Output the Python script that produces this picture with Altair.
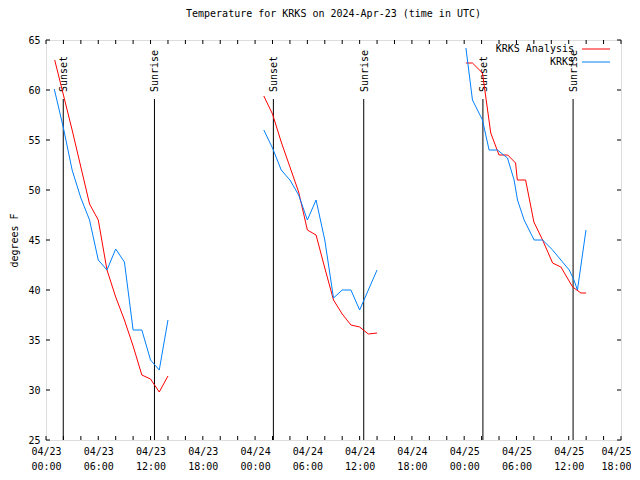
import altair as alt
import pandas as pd

# ---- data (hours since 2024-04-23 00:00 UTC) ----
analysis_hours = [1.0, 2.0, 3.0, 4.0, 5.0, 6.0, 7.0, 8.0, 9.0, 10.0, 11.0, 12.0, 13.0, 14.0,
                  25.0, 26.0, 27.0, 28.0, 29.0, 30.0, 31.0, 32.0, 33.0, 34.0, 35.0, 36.0, 37.0, 38.0,
                  48.2, 48.95, 50.1, 51.05, 52.0, 53.0, 53.9, 54.1, 55.05, 56.0, 57.0, 58.15, 59.1, 60.45, 61.4, 62.0]
analysis_temps = [63.0, 59.5, 56.0, 52.3, 48.6, 47.0, 42.0, 39.3, 37.0, 34.4, 31.5, 31.1, 29.8, 31.4,
                  59.4, 57.6, 54.8, 52.3, 49.8, 46.0, 45.5, 42.2, 39.0, 37.6, 36.5, 36.3, 35.6, 35.7,
                  62.7, 62.7, 61.7, 55.7, 53.5, 53.5, 52.7, 51.0, 51.0, 46.8, 45.0, 42.7, 42.3, 40.3, 39.7, 39.7]

obs_hours = [0.95, 2.0, 3.0, 4.0, 5.0, 6.0, 7.0, 8.0, 9.0, 10.0, 11.0, 12.0, 13.0, 14.0,
             25.0, 26.0, 27.0, 28.0, 29.0, 30.0, 31.0, 32.0, 33.0, 34.0, 35.0, 36.0, 37.0, 38.0,
             48.2, 48.95, 50.1, 50.86, 51.82, 52.97, 53.73, 54.12, 54.88, 56.03, 57.0, 58.15, 59.1, 60.06, 60.6, 61.0, 61.98]
obs_temps = [60.1, 56.2, 52.0, 49.2, 47.0, 43.0, 42.0, 44.1, 42.8, 36.0, 36.0, 33.0, 32.0, 37.0,
             56.0, 54.2, 52.0, 51.0, 49.5, 47.0, 49.0, 45.0, 39.2, 40.0, 40.0, 38.0, 40.0, 42.0,
             64.2, 59.0, 57.0, 54.0, 54.0, 53.2, 51.0, 49.0, 47.0, 45.0, 45.0, 44.0, 43.0, 42.0, 41.0, 40.0, 46.0]

series_names = ["KRKS Analysis", "KRKS"]
series_colors = ["#ff0000", "#0080ff"]

event_hours = [1.98, 12.45, 26.1, 36.47, 50.15, 60.5]
event_labels = ["Sunset", "Sunrise", "Sunset", "Sunrise", "Sunset", "Sunrise"]

y_tick_values = [25, 30, 35, 40, 45, 50, 55, 60, 65]
x_major_ticks = [0, 6, 12, 18, 24, 30, 36, 42, 48, 54, 60, 66]
x_all_ticks = list(range(0, 67, 2))

FONT = "DejaVu Sans Mono"
W, H = 575, 400
TL = 4

rows = []
for h, t in zip(analysis_hours, analysis_temps):
    rows.append({"series": series_names[0], "hour": h, "temp": t, "day": int(h // 24)})
for h, t in zip(obs_hours, obs_temps):
    rows.append({"series": series_names[1], "hour": h, "temp": t, "day": int(h // 24)})
df = pd.DataFrame(rows)

xscale = alt.Scale(domain=[0, 66], nice=False, zero=False)
yscale = alt.Scale(domain=[25, 65], nice=False, zero=False)

label_expr = ("['04/' + (23 + floor(datum.value/24)), "
              "((datum.value % 24) < 10 ? '0' : '') + (datum.value % 24) + ':00']")

lines = alt.Chart(df).mark_line(strokeWidth=1).encode(
    x=alt.X("hour:Q", scale=xscale,
            axis=alt.Axis(values=x_major_ticks, labelExpr=label_expr, title=None,
                          ticks=False, domain=False, grid=False, labelOverlap=False,
                          labelFlush=False, labelPadding=6, labelBaseline="top",
                          labelOffset=alt.expr("datum.value == 66 ? -5 : 0"),
                          labelLineHeight=15, labelFont=FONT, labelFontSize=10,
                          labelColor="black")),
    y=alt.Y("temp:Q", scale=yscale,
            axis=alt.Axis(values=y_tick_values, title="degrees F", ticks=False, domain=False,
                          grid=False, labelPadding=6, labelFont=FONT, labelFontSize=10,
                          labelColor="black", titleFont=FONT, titleFontSize=10,
                          titleFontWeight="normal", titleColor="black", titleAngle=270,
                          titleX=-32, titleY=200, titleAlign="center",
                          titleBaseline="middle")),
    color=alt.Color("series:N", scale=alt.Scale(domain=series_names, range=series_colors),
                    legend=None),
    detail="day:N",
    order="hour:Q",
)

ev = pd.DataFrame({"hour": event_hours, "label": event_labels})
ev_rules = alt.Chart(ev).mark_rule(color="black", strokeWidth=1).encode(
    x=alt.X("hour:Q", scale=xscale), y=alt.value(59), y2=alt.value(H))
ev_text = alt.Chart(ev).mark_text(angle=270, align="left", baseline="middle",
                                  font=FONT, fontSize=10, color="black", dy=1).encode(
    x=alt.X("hour:Q", scale=xscale), y=alt.value(52), text="label:N")

ydf = pd.DataFrame({"v": y_tick_values})
ytick_l = alt.Chart(ydf).mark_rule(color="black").encode(
    y=alt.Y("v:Q", scale=yscale), x=alt.value(0), x2=alt.value(TL))
ytick_r = alt.Chart(ydf).mark_rule(color="black").encode(
    y=alt.Y("v:Q", scale=yscale), x=alt.value(W - TL), x2=alt.value(W))
xdf = pd.DataFrame({"v": x_all_ticks})
xtick_b = alt.Chart(xdf).mark_rule(color="black").encode(
    x=alt.X("v:Q", scale=xscale), y=alt.value(H - TL), y2=alt.value(H))
xtick_t = alt.Chart(xdf).mark_rule(color="black").encode(
    x=alt.X("v:Q", scale=xscale), y=alt.value(0), y2=alt.value(TL))

leg = pd.DataFrame({"name": series_names, "color": series_colors})
leg_rows = []
for i, (nm, col) in enumerate(zip(series_names, series_colors)):
    one = leg.iloc[[i]]
    ypix = 9 + 13 * i
    leg_rows.append(alt.Chart(one).mark_text(align="right", baseline="middle", font=FONT,
                                             fontSize=10, color="black").encode(
        x=alt.value(528), y=alt.value(ypix), text="name:N"))
    leg_rows.append(alt.Chart(one).mark_rule(color=col, strokeWidth=1).encode(
        x=alt.value(536), x2=alt.value(564), y=alt.value(ypix)))

chart = alt.layer(ev_rules, ev_text, lines, ytick_l, ytick_r, xtick_b, xtick_t, *leg_rows).properties(
    width=W, height=H,
    title=alt.Title("Temperature for KRKS on 2024-Apr-23 (time in UTC)", font=FONT,
                    fontSize=10, fontWeight="normal", color="black", anchor="middle",
                    offset=16),
    autosize=alt.AutoSizeParams(type="none"),
    padding={"left": 38, "top": 32, "right": 10, "bottom": 30},
).configure_view(stroke="black", strokeWidth=1).configure(background="white")

chart.save("out.html", embed_options={"renderer": "svg", "actions": False})
